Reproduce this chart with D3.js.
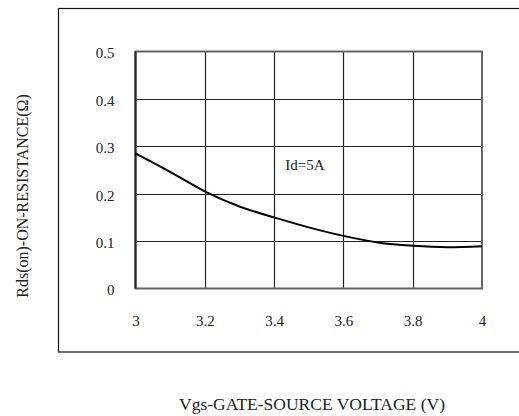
<!DOCTYPE html>
<html>
<head>
<meta charset="utf-8">
<script src="https://cdn.jsdelivr.net/npm/d3@7"></script>
<style>
  html, body { margin: 0; padding: 0; background: #fff; }
  svg { display: block; }
</style>
</head>
<body>
<svg id="chart" width="519" height="416"></svg>
<script>
// Data
const vgs = [3.0, 3.1, 3.2, 3.3, 3.4, 3.5, 3.6, 3.7, 3.8, 3.9, 4.0];
const rdsOn = [0.285, 0.246, 0.205, 0.173, 0.150, 0.129, 0.111, 0.097, 0.090, 0.087, 0.089];
const xTicks = [3, 3.2, 3.4, 3.6, 3.8, 4];
const yTicks = [0, 0.1, 0.2, 0.3, 0.4, 0.5];
const xTickLabels = ["3", "3.2", "3.4", "3.6", "3.8", "4"];
const yTickLabels = ["0", "0.1", "0.2", "0.3", "0.4", "0.5"];
const annotation = "Id=5A";
const xTitle = "Vgs-GATE-SOURCE VOLTAGE (V)";
const yTitle = "Rds(on)-ON-RESISTANCE(Ω)";

const FONT = "font-family:'Liberation Serif','Times New Roman',serif";
const svg = d3.select("#chart");
const plot = { left: 135.5, top: 51.5, right: 482, bottom: 288.5 };

// outer frame
svg.append("rect")
  .attr("x", 58.5).attr("y", 8.5)
  .attr("width", 480).attr("height", 343.5)
  .attr("fill", "none").attr("stroke", "#111").attr("stroke-width", 1.2);

const x = d3.scaleLinear().domain([3, 4]).range([plot.left, plot.right]);
const y = d3.scaleLinear().domain([0, 0.5]).range([plot.bottom, plot.top]);

// grid lines
const g = svg.append("g");
g.selectAll("line.vx").data(xTicks.slice(1, -1)).enter().append("line")
  .attr("x1", d => Math.round(x(d)) + 0.5).attr("x2", d => Math.round(x(d)) + 0.5)
  .attr("y1", plot.top).attr("y2", plot.bottom)
  .attr("stroke", "#222").attr("stroke-width", 1.2);
g.selectAll("line.hy").data(yTicks.slice(1, -1)).enter().append("line")
  .attr("y1", d => Math.round(y(d)) + 0.5).attr("y2", d => Math.round(y(d)) + 0.5)
  .attr("x1", plot.left).attr("x2", plot.right)
  .attr("stroke", "#222").attr("stroke-width", 1.2);

// plot border
g.append("rect")
  .attr("x", plot.left).attr("y", plot.top)
  .attr("width", plot.right - plot.left).attr("height", plot.bottom - plot.top)
  .attr("fill", "none").attr("stroke", "#666").attr("stroke-width", 2);
g.append("line").attr("x1", plot.left).attr("x2", plot.left)
  .attr("y1", plot.top).attr("y2", plot.bottom)
  .attr("stroke", "#222").attr("stroke-width", 2);

// tick labels via d3 axes (domain/ticks hidden)
const xAxis = d3.axisBottom(x).tickValues(xTicks).tickSize(0).tickPadding(0)
  .tickFormat((d, i) => xTickLabels[i]);
const xa = svg.append("g").attr("transform", `translate(0,${plot.bottom + 37})`).call(xAxis);
xa.attr("font-family", null);
xa.select(".domain").remove();
xa.selectAll("text").attr("style", FONT + ";font-size:15px;fill:#222").attr("dy", 0);

const yAxis = d3.axisLeft(y).tickValues(yTicks).tickSize(0).tickPadding(21)
  .tickFormat((d, i) => yTickLabels[i]);
const ya = svg.append("g").attr("transform", `translate(${plot.left},0)`).call(yAxis);
ya.attr("font-family", null);
ya.select(".domain").remove();
ya.selectAll("text").attr("style", FONT + ";font-size:15px;fill:#222").attr("dy", "0.42em");

// curve
const line = d3.line()
  .x((d, i) => x(vgs[i]))
  .y(d => y(d))
  .curve(d3.curveMonotoneX);
svg.append("path").datum(rdsOn)
  .attr("d", line)
  .attr("fill", "none").attr("stroke", "#000").attr("stroke-width", 2);

// annotation
svg.append("text").attr("x", x(3.432)).attr("y", y(0.251))
  .attr("style", FONT + ";font-size:15px;fill:#222").text(annotation);

// titles
svg.append("text").attr("x", 312).attr("y", 410)
  .attr("text-anchor", "middle").attr("style", FONT + ";font-size:17.5px;fill:#222").text(xTitle);
svg.append("text")
  .attr("transform", "translate(28,196) rotate(-90)")
  .attr("text-anchor", "middle").attr("style", FONT + ";font-size:16px;fill:#222").text(yTitle);
</script>
</body>
</html>
